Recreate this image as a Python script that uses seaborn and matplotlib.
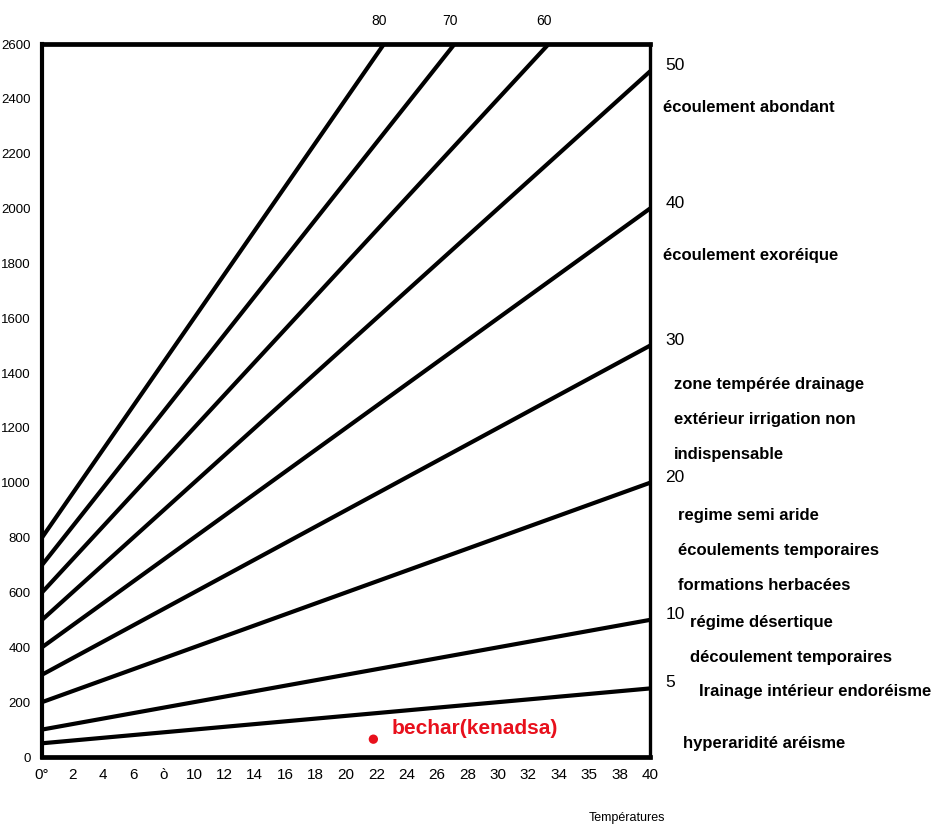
import matplotlib
matplotlib.use("Agg")
import matplotlib.pyplot as plt
from matplotlib.ticker import MultipleLocator
import seaborn as sns
import pandas as pd
from matplotlib import font_manager

# Aridity index lines (De Martonne): precipitation reached at 0 °C and at 40 °C
index_values = [5, 10, 20, 30, 40, 50, 60, 70, 80]
precip_at_0 = [50, 100, 200, 300, 400, 500, 600, 700, 800]
precip_at_40 = [250, 500, 1000, 1500, 2000, 2500, 3000, 3500, 4000]
temp_ends = [0, 40]

# Station plotted on the nomogram
station_name = "bechar(kenadsa)"
station_temp = 21.8
station_precip = 65

x_ticks = [0, 2, 4, 6, 8, 10, 12, 14, 16, 18, 20, 22, 24, 26, 28, 30, 32, 34, 36, 38, 40]
x_tick_labels = ["0°", "2", "4", "6", "ò", "10", "12", "14", "16", "18", "20",
                 "22", "24", "26", "28", "30", "32", "34", "35", "38", "40"]
y_ticks = list(range(0, 2601, 200))

top_labelled = [80, 70, 60]
right_labelled = [50, 40, 30, 20, 10, 5]

zone_texts = [
    (["écoulement abondant"], 2370, 0.5),
    (["écoulement exoréique"], 1830, 0.5),
    (["zone tempérée drainage", "extérieur irrigation non", "indispensable"], 1360, 2.0),
    (["regime semi aride", "écoulements temporaires", "formations herbacées"], 880, 2.5),
    (["régime désertique", "découlement temporaires"], 490, 4.0),
    (["Irainage intérieur endoréisme"], 240, 5.2),
    (["hyperaridité aréisme"], 50, 3.2),
]

sns.set_style("white")
available = {f.name for f in font_manager.fontManager.ttflist}
narrow = "Liberation Sans Narrow" if "Liberation Sans Narrow" in available else "Liberation Sans"
plt.rcParams["font.family"] = [narrow, "DejaVu Sans"]
for key in ["text.color", "axes.labelcolor", "xtick.color", "ytick.color", "axes.edgecolor"]:
    plt.rcParams[key] = "black"

rows = []
for idx, p0, p40 in zip(index_values, precip_at_0, precip_at_40):
    rows.append({"index": idx, "T": temp_ends[0], "P": p0})
    rows.append({"index": idx, "T": temp_ends[1], "P": p40})
df = pd.DataFrame(rows)

fig = plt.figure(figsize=(9.39, 8.30), dpi=100)
ax = fig.add_axes([42 / 939, 1 - 757 / 830, (650 - 42) / 939, (757 - 44) / 830])

sns.lineplot(data=df, x="T", y="P", units="index", estimator=None,
             color="black", linewidth=3.0, ax=ax, legend=False)
sns.scatterplot(x=[station_temp], y=[station_precip], color="#e8101c", s=45,
                edgecolor="none", ax=ax, legend=False)
ax.text(station_temp + 1.2, station_precip + 40, station_name, color="#e8101c",
        fontsize=15, fontweight="bold", family=[narrow, "DejaVu Sans"], va="center")

ax.set_xlim(0, 40)
ax.set_ylim(0, 2600)
ax.set_xlabel("")
ax.set_ylabel("")
ax.set_xticks(x_ticks)
ax.set_xticklabels(x_tick_labels)
ax.set_yticks(y_ticks)
ax.set_yticklabels([str(v) for v in y_ticks])
ax.yaxis.set_minor_locator(MultipleLocator(100))
ax.tick_params(axis="x", direction="in", length=5, width=1.5, labelsize=11, pad=8,
               colors="black")
ax.tick_params(axis="y", which="major", direction="out", length=4, width=1.5,
               labelsize=9.5, pad=4, colors="black")
ax.tick_params(axis="y", which="minor", direction="out", length=3, width=1.5,
               colors="black")

for side, lw in [("top", 3.4), ("left", 3.0), ("bottom", 3.4), ("right", 2.4)]:
    ax.spines[side].set_visible(True)
    ax.spines[side].set_linewidth(lw)
    ax.spines[side].set_color("black")

# Index labels where the steep lines leave the top edge
for idx in top_labelled:
    i = index_values.index(idx)
    slope = (precip_at_40[i] - precip_at_0[i]) / (temp_ends[1] - temp_ends[0])
    t_top = (2600 - precip_at_0[i]) / slope
    ax.text(t_top - 0.3, 2600 + 60, str(idx), ha="center", va="bottom", fontsize=10)

# Index labels on the right edge
for idx in right_labelled:
    i = index_values.index(idx)
    ax.text(41.0, precip_at_40[i] + 20, str(idx), ha="left", va="center", fontsize=12.5,
            family=["Liberation Sans", "DejaVu Sans"])

# Climate zone descriptions
for lines, y0, xoff in zone_texts:
    for k, line in enumerate(lines):
        ax.text(40 + xoff * 0.5 + 0.6, y0 - k * 128, line, ha="left", va="center",
                fontsize=12, fontweight="bold", family=["Liberation Sans", "DejaVu Sans"],
                color="black", clip_on=False)

fig.text(665 / 939, 1 - 818 / 830, "Températures", ha="right", va="center", fontsize=9)

fig.savefig("out.png", dpi=100, facecolor="white")
